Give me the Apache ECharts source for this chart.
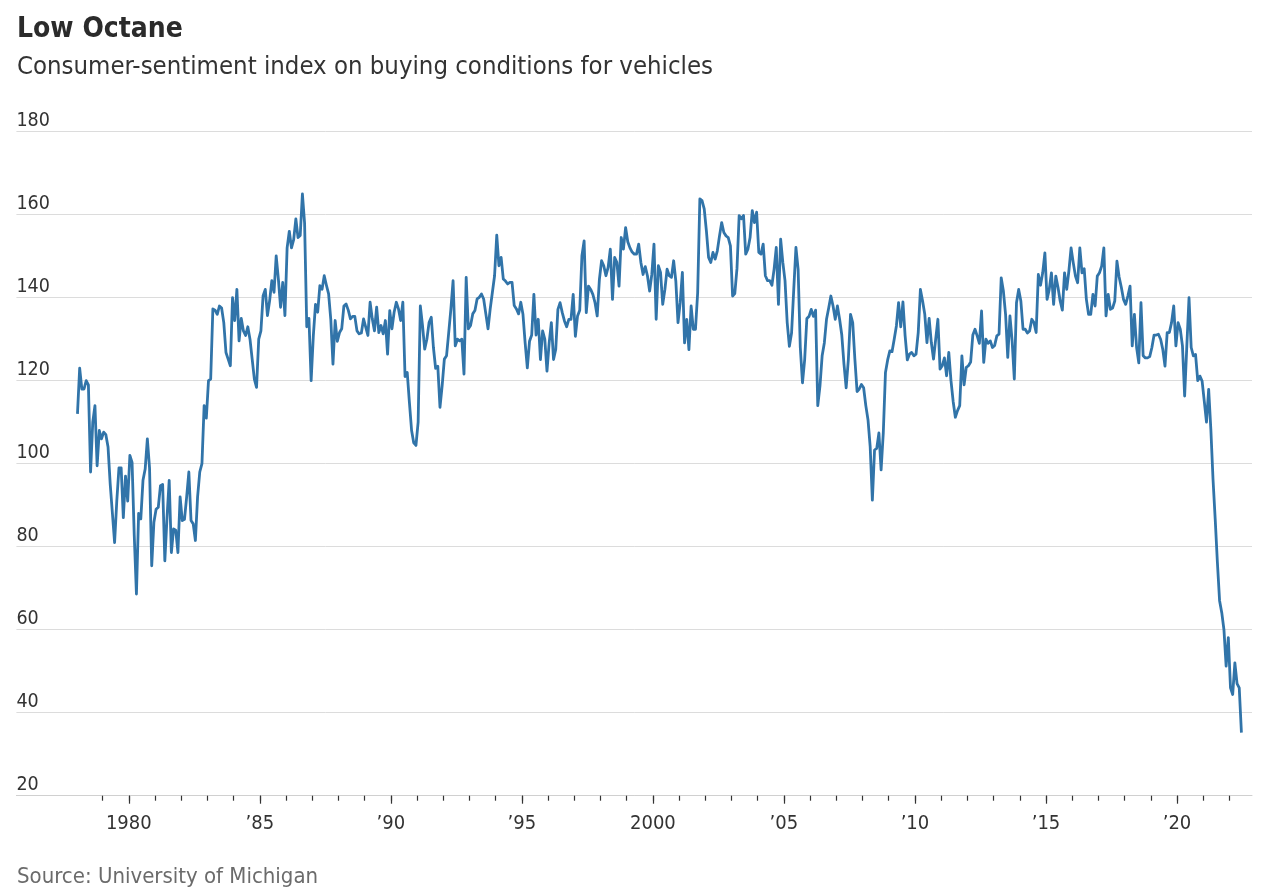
<!DOCTYPE html>
<html><head><meta charset="utf-8">
<script src="https://cdn.jsdelivr.net/npm/echarts@6/dist/echarts.min.js"></script>
<style>html,body{margin:0;padding:0;background:#fff;}#chart{width:1280px;height:896px;}</style>
</head><body><div id="chart"></div>
<script>
const titleText = 'Low Octane';
const subtitleText = 'Consumer-sentiment index on buying conditions for vehicles';
const sourceText = 'Source: University of Michigan';

// Monthly index values, January 1978 onward
const startYear = 1978;
const values1978to1989 = [
  112,123,118,118,120,119,98,110,114,99.5,108,106,
  107.6,107,104,95,88,81,91,99,99,87,97,91,
  102,100.3,82.7,68.6,88,86.7,96,98.7,106,99,75.4,85.9,
  89,89.5,94.7,95,76.6,87,96,78.6,84.3,84,78.6,92,
  86.3,86.6,92,98,86.3,85.5,81.5,92,98,100,114,111,
  120,120.4,137.3,137,136,138,137.5,134,126.8,125.2,123.6,140,
  134.5,142,129.6,135,132,130.9,133,130,125.2,120.4,118.4,130,
  132,140.5,142,135.7,139.3,144.1,141.3,150.1,144.5,137.7,143.7,135.7,
  152,156,152,154,159,154.5,155,165,158,133,135,120,
  130.8,138.4,136.5,142.9,142,145.3,143,140.9,134.8,124,134.5,129.5,
  131.6,132.5,138,138.5,137,134.9,135.5,135.5,132,131.3,131.5,134.9,
  132.9,130.9,138.9,134.9,132,137.7,131.6,133.3,131.3,134.5,126.4,136.9
];
const values1990to1999 = [
  132.5,136.5,138.9,137.3,134.5,138.9,121,122,114.8,108,105,104.4,
  110,138,133.3,127.6,130,134,135.3,128,123,123.5,113.6,118.8,
  125.2,126,131.6,137.3,144.1,128.4,130,129.6,130,121.6,144.9,132.5,
  133.3,136.1,136.9,139.7,140.1,140.9,139.7,136.1,132.5,137.3,141.3,145.3,
  155.1,147.7,149.7,144.5,144,143.3,143.7,143.7,138.1,137.3,136.1,138.9,
  136,129.1,123.1,129.5,131,140.8,131,134.8,125.1,132,130,122.3,
  129.1,134,125.1,127.5,137.2,138.8,136.4,134.4,133,134.8,134.8,140.8,
  130.7,135.6,137,150.1,153.7,136.4,142.8,142,140.8,138.8,135.6,144.4,
  148.9,147.7,145.3,147.3,151.7,139.6,149.7,148.5,142.8,154.5,151.7,156.9,
  153.5,152,151,150.5,150.5,152.9,148.5,145.6,147.5,145.3,141.6,145.6
];
const values2000to2009 = [
  152.9,134.8,147.7,146.1,138.4,142,146.9,145.3,144.9,148.9,144,134,
  138.8,146.1,129.1,134.8,127.5,138,132.4,132.4,141.2,163.8,163.4,161.4,
  156.1,149.7,148.5,150.9,149.3,151.3,154.9,158.1,155.7,154.9,154.5,152.5,
  140.4,141,147,159.8,159,159.8,150.5,151.7,154.5,161,158.1,160.6,
  150.9,150.5,152.9,145.3,144.1,144.1,143,146.9,152.1,138.4,154.1,148.5,
  144.1,134,128.3,131.5,142,152.1,146.9,128,119.5,125.1,135,135.5,
  137.2,135.5,137,114,118.7,126,129.1,134.8,137.5,140.4,138,134.8,
  138,134.8,131,124,118.3,125.1,136,134,125.1,117.4,118,119.1,
  118.3,114,110.6,104.1,91.2,103.3,103.7,107.4,98.5,107.4,122,125,
  127.2,127,130,133.2,138.8,133,139,130.8,125,126.4,126.8,126
];
const values2010to2022 = [
  126.4,131.6,142,139.2,136,129.2,135,129.2,125.2,130,134.8,122.8,
  123.6,125.5,121.2,126.8,120,115,111.2,112.8,114,126,119,123.2,
  123.6,124.5,131,132.4,130.8,129,136.8,124.4,130,129,129.6,128,
  128.5,130.8,131.2,144.8,141.6,136,125.6,135.6,129.6,120.4,138.8,142,
  139.2,132.4,132.4,131.5,132,134.8,134,131.6,145.6,143,146,150.8,
  139.6,142,146,138.4,145.2,142.5,139.2,137,146,142,146.5,152,
  148.4,145.2,143.6,152,146,147,139.6,136,136,140.8,138,145.2,
  146,147.6,152,135.6,140.8,137.2,137.5,139.2,148.8,145,142.5,139.6,
  138.4,140.4,142.8,128.4,136,128,124.3,138.8,126,125.5,125.5,125.8,
  128,131,131,131.2,130,127.5,123.5,131.6,131.6,134,138,128.4,
  134,132.4,128.4,116.3,128.4,140,128,126,126.3,120,121.1,119.9,
  115,110,117.9,108.3,96.2,86.6,76.2,67,64.1,60,51.2,58.1,
  46,44.4,52,47,46,35.2
];

const yTickValues = [20,40,60,80,100,120,140,160,180];
const majorTickYears = [1980,1985,1990,1995,2000,2005,2010,2015,2020];
const majorTickLabels = ['1980','\u201985','\u201990','\u201995','2000','\u201905','\u201910','\u201915','\u201920'];
const minorTickYears = [1979,1980,1981,1982,1983,1984,1985,1986,1987,1988,1989,1990,1991,1992,1993,1994,1995,1996,1997,1998,1999,2000,2001,2002,2003,2004,2005,2006,2007,2008,2009,2010,2011,2012,2013,2014,2015,2016,2017,2018,2019,2020,2021,2022];

const allValues = [].concat(values1978to1989, values1990to1999, values2000to2009, values2010to2022);
const seriesData = allValues.map((v, i) => [startYear + (i + 0.5) / 12, v]);

const FONT = '"DejaVu Sans Condensed", "Liberation Sans Narrow", sans-serif';
const X_MIN = 1975.711, X_MAX = 2022.862;
const gridRect = { left: 16.4, right: 28, top: 131.7, bottom: 100.3, containLabel: false };

const chart = echarts.init(document.getElementById('chart'), null, { renderer: 'canvas' });
chart.setOption({
  animation: false,
  backgroundColor: '#fff',
  graphic: [
    { type: 'text', left: 17, top: 15.5, style: { text: titleText, font: 'bold 28px ' + FONT, fill: '#2b2b2b' } },
    { type: 'text', left: 17, top: 54, style: { text: subtitleText, font: '25.5px ' + FONT, fill: '#333' } },
    { type: 'text', left: 17, top: 866, style: { text: sourceText, font: '22px ' + FONT, fill: '#6b6b6b' } }
  ],
  grid: [Object.assign({}, gridRect), Object.assign({}, gridRect)],
  xAxis: [
    {
      type: 'value', gridIndex: 0, min: X_MIN, max: X_MAX, position: 'bottom',
      axisLine: { show: true, lineStyle: { color: '#d0d0d0', width: 1 } },
      axisTick: { show: true, customValues: majorTickYears, length: 8, lineStyle: { color: '#333', width: 1.2 } },
      axisLabel: {
        show: true, customValues: majorTickYears, margin: 18,
        formatter: v => majorTickLabels[majorTickYears.indexOf(Math.round(v))] || '',
        fontFamily: FONT, fontSize: 20, color: '#333'
      },
      splitLine: { show: false }
    },
    {
      type: 'value', gridIndex: 1, min: X_MIN, max: X_MAX, position: 'bottom',
      axisLine: { show: false },
      axisTick: { show: true, customValues: minorTickYears, length: 5, lineStyle: { color: '#333', width: 1.2 } },
      axisLabel: { show: false },
      splitLine: { show: false }
    }
  ],
  yAxis: [
    {
      type: 'value', gridIndex: 0, min: 20, max: 180, interval: 20,
      axisLine: { show: false }, axisTick: { show: false },
      splitLine: { show: true, lineStyle: { color: '#dcdcdc', width: 1 } },
      axisLabel: {
        inside: true, align: 'left', verticalAlign: 'bottom', margin: 0,
        padding: [0, 0, 1, 0], fontFamily: FONT, fontSize: 19.5, color: '#333',
        customValues: yTickValues
      }
    },
    { type: 'value', gridIndex: 1, min: 20, max: 180, show: false }
  ],
  series: [{
    type: 'line', xAxisIndex: 0, yAxisIndex: 0, data: seriesData,
    showSymbol: false, symbol: 'none', smooth: false,
    lineStyle: { color: '#3174a9', width: 2.8, join: 'round' },
    z: 5
  }]
});
</script></body></html>
